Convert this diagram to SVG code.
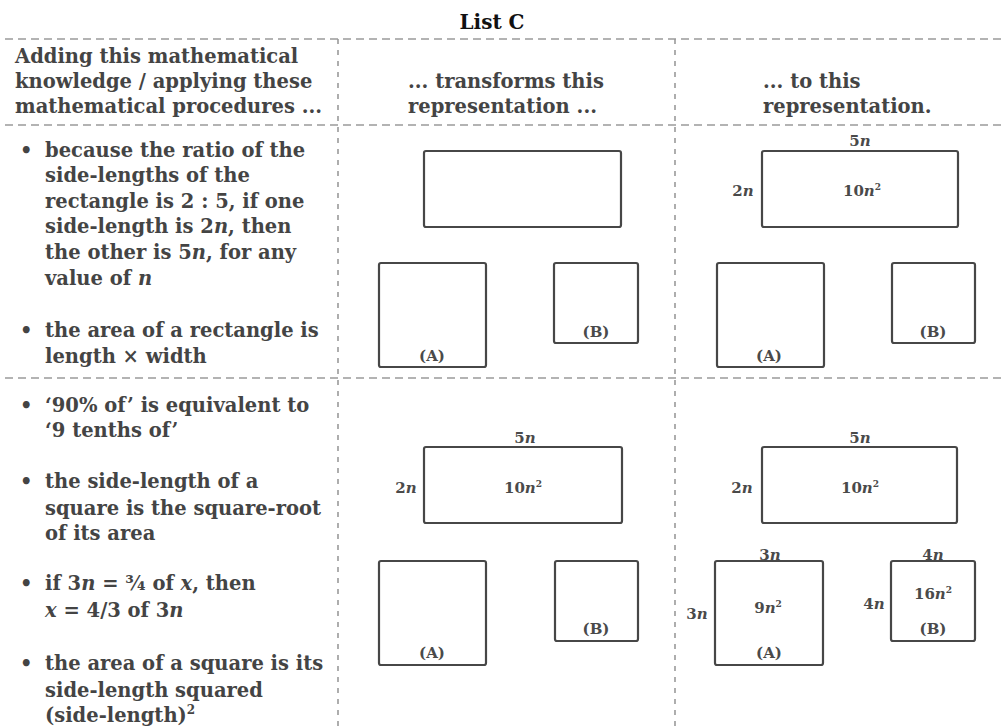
<svg xmlns="http://www.w3.org/2000/svg" width="1001" height="727" viewBox="0 0 1001 727">
<style>
.t{font-family:"DejaVu Serif","Liberation Serif",serif;font-size:19.5px;font-weight:bold;fill:#444}
.h{font-family:"DejaVu Serif","Liberation Serif",serif;font-size:20px;font-weight:bold;fill:#111}
.l{font-family:"DejaVu Serif","Liberation Serif",serif;font-size:15px;font-weight:bold;fill:#4a4a4a;text-anchor:middle}
.hd{stroke:#9a9a9a;stroke-width:1.6;stroke-dasharray:8 5;fill:none}
.vd{stroke:#9a9a9a;stroke-width:1.6;stroke-dasharray:5 6;fill:none}
.b{fill:#fff;stroke:#474747;stroke-width:2.2}
</style>
<rect width="1001" height="727" fill="#fff"/>
<text class="h" x="492" y="29" text-anchor="middle">List C</text>
<g id="grid">
<line class="hd" x1="5" y1="39" x2="1001" y2="39"/>
<line class="hd" x1="5" y1="125" x2="1001" y2="125"/>
<line class="hd" x1="5" y1="378" x2="1001" y2="378"/>
<line class="vd" x1="338" y1="39" x2="338" y2="727"/>
<line class="vd" x1="675" y1="39" x2="675" y2="727"/>
</g>
<g id="headers">
<text class="t" x="15" y="63">Adding this mathematical</text>
<text class="t" x="15" y="88">knowledge / applying these</text>
<text class="t" x="15" y="113">mathematical procedures ...</text>
<text class="t" x="408" y="88">... transforms this</text>
<text class="t" x="408" y="113">representation ...</text>
<text class="t" x="763" y="88">... to this</text>
<text class="t" x="763" y="113">representation.</text>
</g>
<g id="knowledge-row1">
<text class="t" x="20" y="157">•</text>
<text class="t" x="45" y="157">because the ratio of the</text>
<text class="t" x="45" y="182">side-lengths of the</text>
<text class="t" x="45" y="208">rectangle is 2 : 5, if one</text>
<text class="t" x="45" y="233">side-length is 2<tspan font-style="italic">n</tspan>, then</text>
<text class="t" x="45" y="259">the other is 5<tspan font-style="italic">n</tspan>, for any</text>
<text class="t" x="45" y="285">value of <tspan font-style="italic">n</tspan></text>
<text class="t" x="20" y="337">•</text>
<text class="t" x="45" y="337">the area of a rectangle is</text>
<text class="t" x="45" y="363">length × width</text>
</g>
<g id="knowledge-row2">
<text class="t" x="20" y="412">•</text>
<text class="t" x="45" y="412">‘90% of’ is equivalent to</text>
<text class="t" x="45" y="437">‘9 tenths of’</text>
<text class="t" x="20" y="488">•</text>
<text class="t" x="45" y="488">the side-length of a</text>
<text class="t" x="45" y="515">square is the square-root</text>
<text class="t" x="45" y="540">of its area</text>
<text class="t" x="20" y="590">•</text>
<text class="t" x="45" y="590">if 3<tspan font-style="italic">n</tspan> = ¾ of <tspan font-style="italic">x</tspan>, then</text>
<text class="t" x="45" y="617"><tspan font-style="italic">x</tspan> = 4/3 of 3<tspan font-style="italic">n</tspan></text>
<text class="t" x="20" y="670">•</text>
<text class="t" x="45" y="670">the area of a square is its</text>
<text class="t" x="45" y="697">side-length squared</text>
<text class="t" x="45" y="722">(side-length)<tspan font-size="12" dy="-8">2</tspan></text>
</g>
<g id="mid-top">
<rect class="b" x="424" y="151" width="197" height="76" rx="2"/>
<rect class="b" x="379" y="263" width="107" height="104" rx="2"/>
<text class="l" x="432" y="361">(A)</text>
<rect class="b" x="554" y="263" width="84" height="80" rx="2"/>
<text class="l" x="596" y="337">(B)</text>
</g>
<g id="right-top">
<rect class="b" x="762" y="151" width="196" height="76" rx="2"/>
<text class="l" x="860" y="146">5<tspan font-style="italic">n</tspan></text>
<text class="l" x="743" y="196">2<tspan font-style="italic">n</tspan></text>
<text class="l" x="862" y="196">10<tspan font-style="italic">n</tspan><tspan font-size="9" dy="-6">2</tspan></text>
<rect class="b" x="717" y="263" width="107" height="104" rx="2"/>
<text class="l" x="769" y="361">(A)</text>
<rect class="b" x="892" y="263" width="83" height="80" rx="2"/>
<text class="l" x="933" y="337">(B)</text>
</g>
<g id="mid-bottom">
<rect class="b" x="424" y="447" width="198" height="76" rx="2"/>
<text class="l" x="525" y="443">5<tspan font-style="italic">n</tspan></text>
<text class="l" x="406" y="493">2<tspan font-style="italic">n</tspan></text>
<text class="l" x="523" y="493">10<tspan font-style="italic">n</tspan><tspan font-size="9" dy="-6">2</tspan></text>
<rect class="b" x="379" y="561" width="107" height="104" rx="2"/>
<text class="l" x="432" y="658">(A)</text>
<rect class="b" x="555" y="561" width="83" height="80" rx="2"/>
<text class="l" x="596" y="634">(B)</text>
</g>
<g id="right-bottom">
<rect class="b" x="762" y="447" width="195" height="76" rx="2"/>
<text class="l" x="860" y="443">5<tspan font-style="italic">n</tspan></text>
<text class="l" x="742" y="493">2<tspan font-style="italic">n</tspan></text>
<text class="l" x="860" y="493">10<tspan font-style="italic">n</tspan><tspan font-size="9" dy="-6">2</tspan></text>
<rect class="b" x="715" y="561" width="108" height="104" rx="2"/>
<text class="l" x="770" y="560">3<tspan font-style="italic">n</tspan></text>
<text class="l" x="697" y="619">3<tspan font-style="italic">n</tspan></text>
<text class="l" x="768" y="613">9<tspan font-style="italic">n</tspan><tspan font-size="9" dy="-6">2</tspan></text>
<text class="l" x="769" y="658">(A)</text>
<rect class="b" x="891" y="561" width="84" height="80" rx="2"/>
<text class="l" x="933" y="560">4<tspan font-style="italic">n</tspan></text>
<text class="l" x="874" y="609">4<tspan font-style="italic">n</tspan></text>
<text class="l" x="933" y="599">16<tspan font-style="italic">n</tspan><tspan font-size="9" dy="-6">2</tspan></text>
<text class="l" x="933" y="634">(B)</text>
</g>
</svg>
